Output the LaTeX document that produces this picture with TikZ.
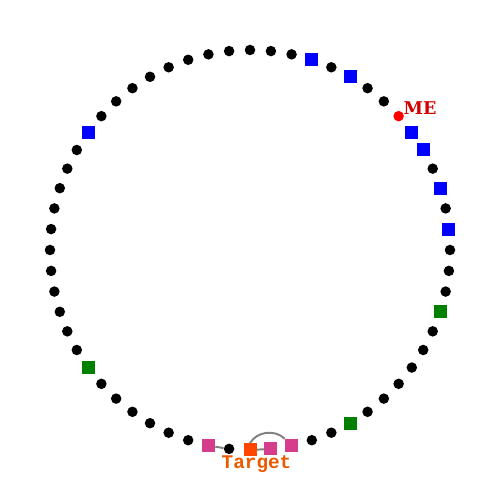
\documentclass[tikz,border=0pt]{standalone}
\usepackage{fontspec}
\newfontfamily\mefont{DejaVu Serif}
\newfontfamily\tgfont{Liberation Mono}
\definecolor{sqblue}{RGB}{0,0,255}
\definecolor{sqgreen}{RGB}{0,128,0}
\definecolor{sqpink}{RGB}{214,60,140}
\definecolor{sqtarget}{RGB}{255,69,0}
\definecolor{tgtext}{RGB}{235,90,0}
\definecolor{metext}{RGB}{210,0,0}
\definecolor{edgegray}{RGB}{128,128,128}
\begin{document}
\begin{tikzpicture}[
  dotb/.style={circle,fill=black,inner sep=0pt,minimum size=0.21cm},
  dotme/.style={circle,fill=red,inner sep=0pt,minimum size=0.21cm},
  sqb/.style={rectangle,fill=sqblue,inner sep=0pt,minimum size=0.26cm},
  sqg/.style={rectangle,fill=sqgreen,inner sep=0pt,minimum size=0.26cm},
  sqp/.style={rectangle,fill=sqpink,inner sep=0pt,minimum size=0.26cm},
  sqt/.style={rectangle,fill=sqtarget,inner sep=0pt,minimum size=0.26cm},
  link/.style={draw=edgegray,line width=1.1pt}
]
\useasboundingbox (0,0) rectangle (10,10);
\fill[white] (0,0) rectangle (10,10);
\foreach \k/\s in {0/dotb,1/dotb,2/dotb,3/sqb,4/dotb,5/sqb,6/dotb,7/dotb,8/dotme,9/sqb,
  10/sqb,11/dotb,12/sqb,13/dotb,14/sqb,15/dotb,16/dotb,17/dotb,18/sqg,19/dotb,
  20/dotb,21/dotb,22/dotb,23/dotb,24/dotb,25/sqg,26/dotb,27/dotb,28/sqp,29/sqp,
  30/sqt,31/dotb,32/sqp,33/dotb,34/dotb,35/dotb,36/dotb,37/dotb,38/dotb,39/sqg,
  40/dotb,41/dotb,42/dotb,43/dotb,44/dotb,45/dotb,46/dotb,47/dotb,48/dotb,49/dotb,
  50/dotb,51/sqb,52/dotb,53/dotb,54/dotb,55/dotb,56/dotb,57/dotb,58/dotb,59/dotb}
{
  \node[\s] (p\k) at ({5+4*cos(90-6*\k)},{5+4*sin(90-6*\k)}) {};
}
\draw[link] (p32) -- (p31);
\draw[link] (p30) -- (p29);
\draw[link] (p30.north) to[out=60,in=135] (p28.north west);
\node[text=metext,font=\mefont\bfseries\fontsize{10pt}{12pt}\selectfont] (me) at (8.4,7.84) {ME};
\node[text=tgtext,font=\tgfont\bfseries\fontsize{11pt}{13pt}\selectfont] (tg) at (5.13,0.72) {Target};
\end{tikzpicture}
\end{document}
